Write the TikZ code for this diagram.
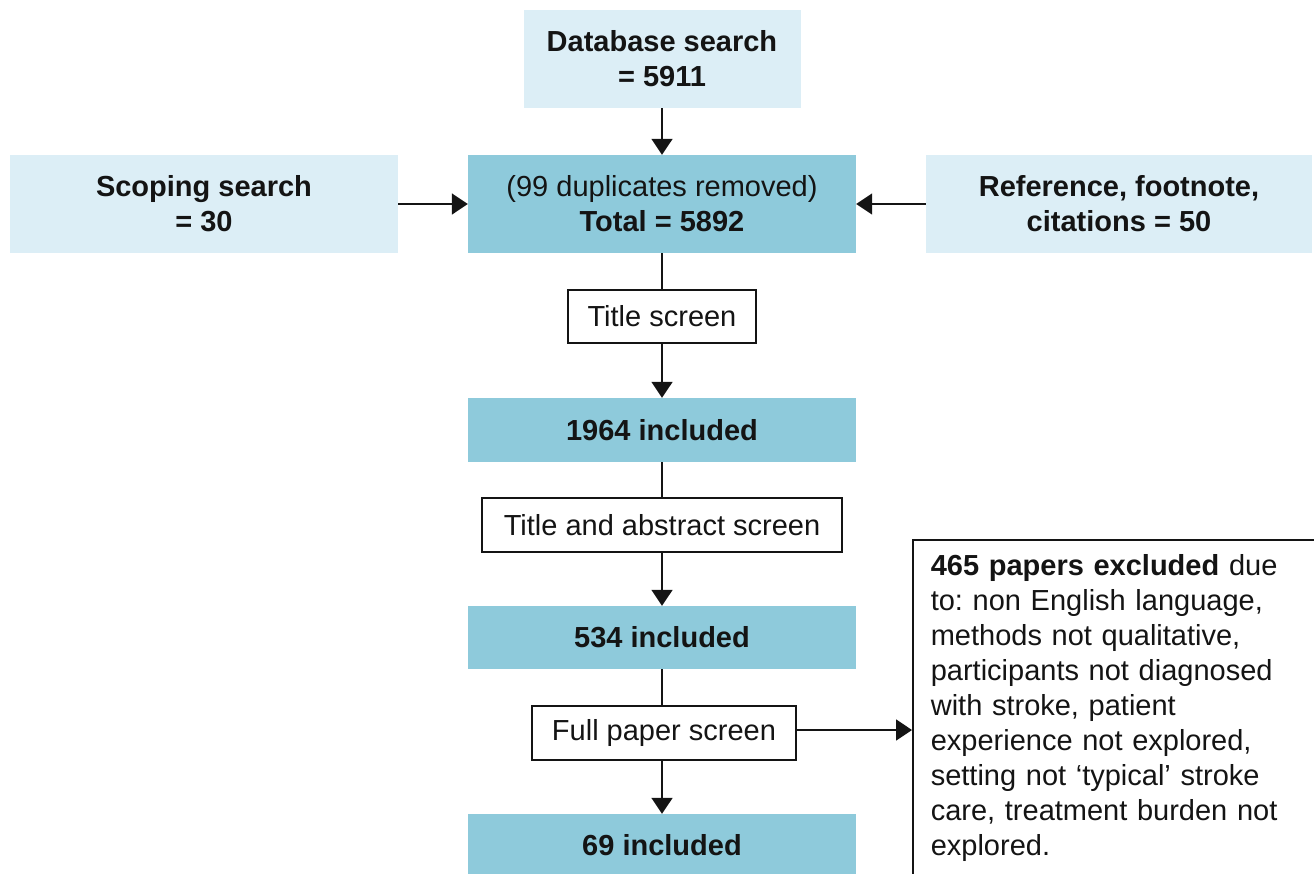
\documentclass[tikz,border=0pt]{standalone}
\usepackage{fontspec}
\setmainfont{Liberation Sans}
\usetikzlibrary{arrows.meta}
\definecolor{lightbox}{HTML}{DCEEF6}
\definecolor{darkbox}{HTML}{8ECADB}
\definecolor{ink}{HTML}{141414}
\frenchspacing
\begin{document}
\begin{tikzpicture}[x=1pt,y=-1pt,
  every node/.style={font=\fontsize{29}{35}\selectfont, text=ink, align=center, inner sep=0pt},
  lightnode/.style={fill=lightbox, font=\fontsize{29}{35}\selectfont\bfseries},
  darknode/.style={fill=darkbox, font=\fontsize{29}{35}\selectfont\bfseries},
  screennode/.style={draw=ink, fill=white, line width=1.6pt},
  conn/.style={draw=ink, line width=1.8pt},
  arr/.style={conn, -{Triangle[width=21pt,length=16pt]}}
]
\useasboundingbox (0,0) rectangle (1314,873);
\clip (0,0) rectangle (1314,873);
\node[lightnode, minimum width=277pt, minimum height=98pt] (db) at (662,59) {Database search\\= 5911};
\node[lightnode, minimum width=388pt, minimum height=98pt] (scope) at (204,204) {Scoping search\\= 30};
\node[darknode, minimum width=388pt, minimum height=98pt] (total) at (662,204) {\mdseries(99 duplicates removed)\\Total = 5892};
\node[lightnode, minimum width=386pt, minimum height=98pt] (ref) at (1119,204) {Reference, footnote,\\citations = 50};
\node[screennode, minimum width=188pt, minimum height=53pt] (title) at (662,316.5) {Title screen};
\node[darknode, minimum width=388pt, minimum height=64pt] (n1964) at (662,430) {1964 included};
\node[screennode, minimum width=360pt, minimum height=54pt] (abs) at (662,525) {Title and abstract screen};
\node[darknode, minimum width=388pt, minimum height=63pt] (n534) at (662,637.5) {534 included};
\node[screennode, minimum width=264pt, minimum height=54pt] (full) at (664,733) {Full paper screen};
\node[darknode, minimum width=388pt, minimum height=63pt] (n69) at (662,845.5) {69 included};
\node[screennode, anchor=north west, minimum width=402pt, minimum height=380pt, align=left, text width=366pt, inner xsep=18pt, inner ysep=14pt, text depth=330pt] (excl) at (912,539) {\textbf{465 papers excluded} due\\to: non English language,\\methods not qualitative,\\participants not diagnosed\\with stroke, patient\\experience not explored,\\setting not `typical' stroke\\care, treatment burden not\\explored.};
\draw[arr] (db.south) -- (total.north);
\draw[arr] (scope.east) -- (total.west);
\draw[arr] (ref.west) -- (total.east);
\draw[conn] (total.south) -- (title.north -| total.south);
\draw[arr] (title.south -| total.south) -- (n1964.north);
\draw[conn] (n1964.south) -- (abs.north);
\draw[arr] (abs.south) -- (n534.north);
\draw[conn] (n534.south) -- (full.north -| n534.south);
\draw[arr] (full.south -| n534.south) -- (n69.north);
\draw[arr] ([yshift=3pt]full.east) -- ([yshift=3pt]full.east -| excl.west);
\end{tikzpicture}
\end{document}
